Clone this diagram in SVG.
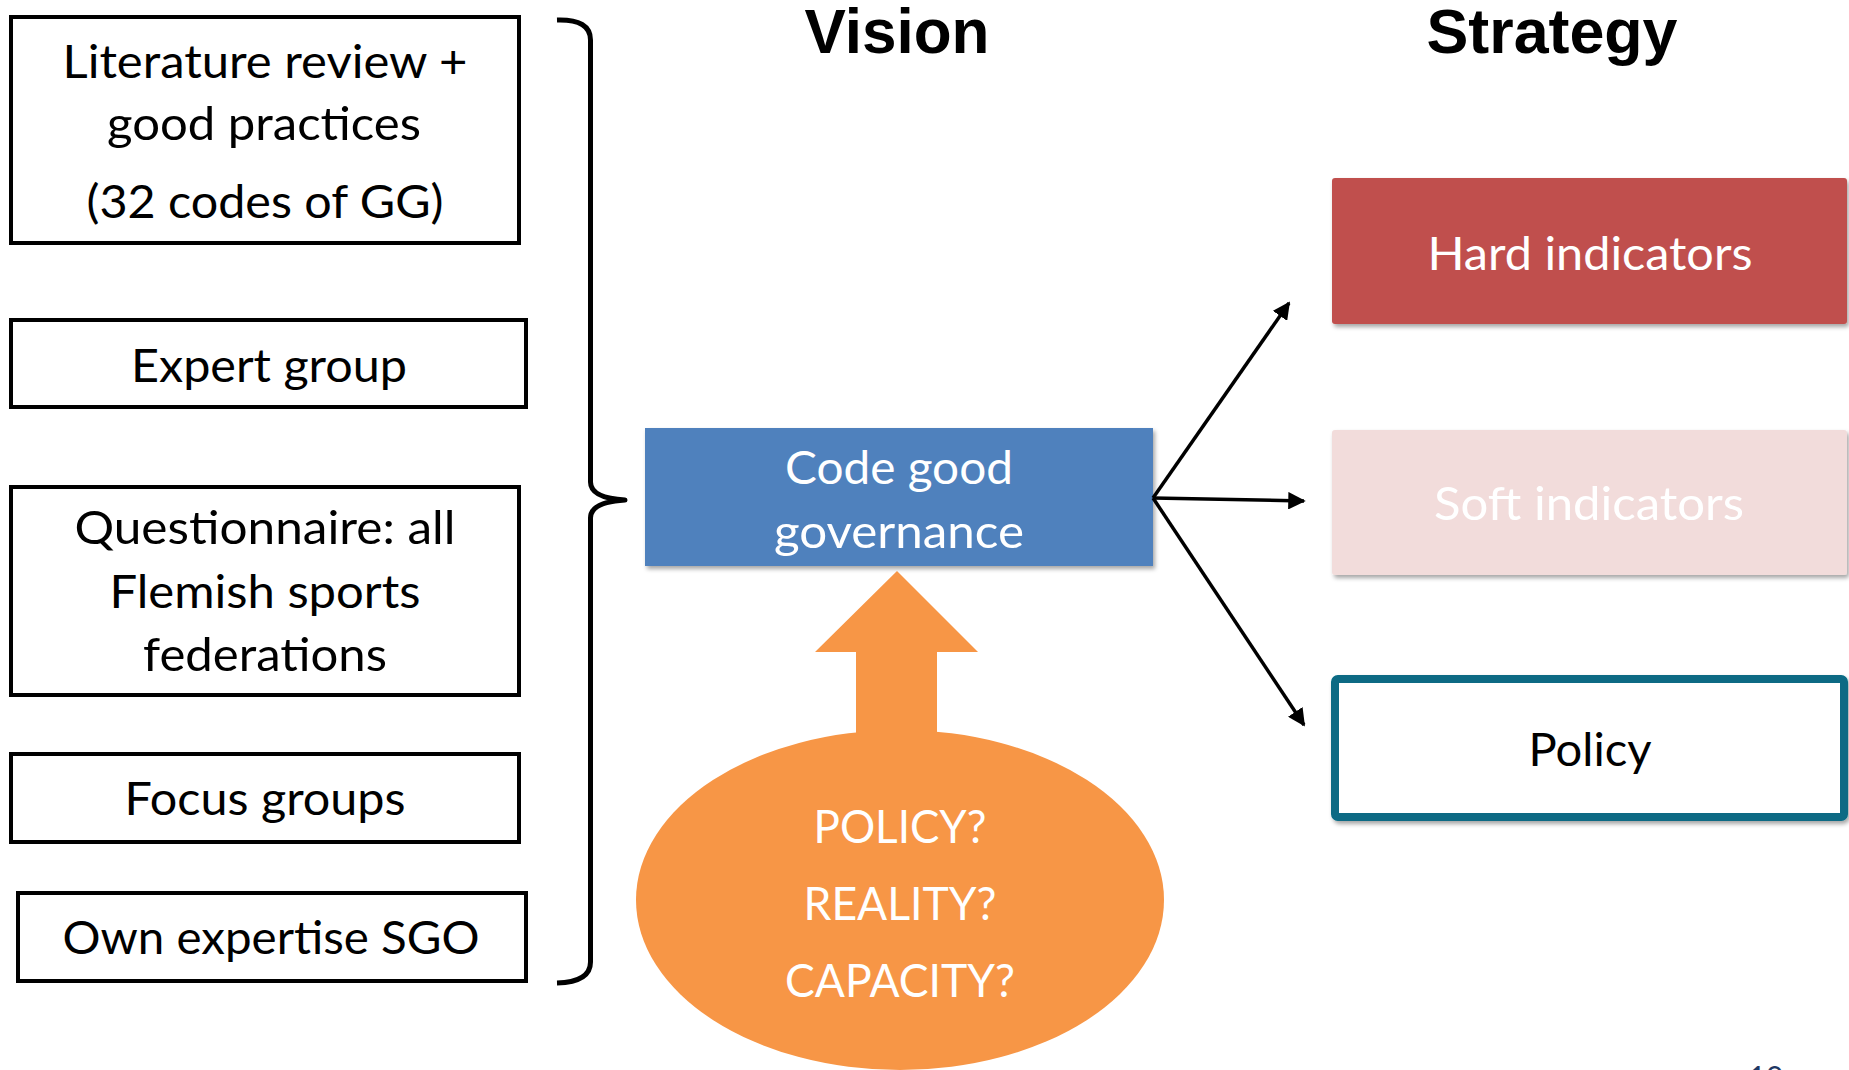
<svg xmlns="http://www.w3.org/2000/svg" width="1849" height="1070" viewBox="0 0 1849 1070">
  <style>
    .src { fill: #ffffff; stroke: #000000; stroke-width: 4; }
    .body { font-family: Lato, "Open Sans", "Liberation Sans", sans-serif; font-size: 47px; text-anchor: middle; }
    .dark { fill: #000000; }
    .light { fill: #ffffff; }
    .head { font-family: "Liberation Sans", Arial, sans-serif; font-weight: bold; font-size: 63px; text-anchor: middle; fill: #000000; }
    .link { fill: none; stroke: #000000; stroke-width: 3.5; marker-end: url(#tip); }
  </style>
  <defs>
    <marker id="tip" viewBox="0 0 10 10" refX="9" refY="5" markerWidth="5" markerHeight="5" orient="auto" markerUnits="strokeWidth">
      <path d="M0,0 L10,5 L0,10 Z" fill="#000000"/>
    </marker>
    <filter id="shadow" x="-5%" y="-10%" width="115%" height="130%">
      <feDropShadow dx="2" dy="3" stdDeviation="2" flood-color="#000000" flood-opacity="0.35"/>
    </filter>
  </defs>

  <rect width="1849" height="1070" fill="#ffffff"/>

  <!-- column headings -->
  <g id="headings">
    <text class="head" x="897" y="53" textLength="185" lengthAdjust="spacingAndGlyphs">Vision</text>
    <text class="head" x="1552" y="53" textLength="251" lengthAdjust="spacingAndGlyphs">Strategy</text>
  </g>

  <!-- input sources -->
  <g id="literature">
    <rect class="src" x="11" y="17" width="508" height="226"/>
    <text class="body dark" x="265" y="78" textLength="405" lengthAdjust="spacingAndGlyphs">Literature review +</text>
    <text class="body dark" x="264" y="140" textLength="314" lengthAdjust="spacingAndGlyphs">good practices</text>
    <text class="body dark" x="265" y="218" textLength="357" lengthAdjust="spacingAndGlyphs">(32 codes of GG)</text>
  </g>
  <g id="expert-group">
    <rect class="src" x="11" y="320" width="515" height="87"/>
    <text class="body dark" x="269" y="382" textLength="276" lengthAdjust="spacingAndGlyphs">Expert group</text>
  </g>
  <g id="questionnaire">
    <rect class="src" x="11" y="487" width="508" height="208"/>
    <text class="body dark" x="265" y="544" textLength="381" lengthAdjust="spacingAndGlyphs">Questionnaire: all</text>
    <text class="body dark" x="265" y="608" textLength="311" lengthAdjust="spacingAndGlyphs">Flemish sports</text>
    <text class="body dark" x="265" y="671" textLength="244" lengthAdjust="spacingAndGlyphs">federations</text>
  </g>
  <g id="focus-groups">
    <rect class="src" x="11" y="754" width="508" height="88"/>
    <text class="body dark" x="265" y="815" textLength="281" lengthAdjust="spacingAndGlyphs">Focus groups</text>
  </g>
  <g id="own-expertise">
    <rect class="src" x="18" y="893" width="508" height="88"/>
    <text class="body dark" x="271" y="954" textLength="417" lengthAdjust="spacingAndGlyphs">Own expertise SGO</text>
  </g>

  <!-- brace gathering the sources -->
  <g id="brace">
    <path d="M557,20 Q590.5,19 590.5,40 L590.5,482 Q590.5,498 625,500 Q590.5,502 590.5,518 L590.5,962 Q590.5,982 557,983" fill="none" stroke="#000000" stroke-width="5" stroke-linejoin="round"/>
  </g>

  <!-- central code -->
  <g id="code">
    <rect x="645" y="428" width="508" height="138" fill="#4F81BD" filter="url(#shadow)"/>
    <text class="body light" x="899" y="484" textLength="228" lengthAdjust="spacingAndGlyphs">Code good</text>
    <text class="body light" x="899" y="548" textLength="250" lengthAdjust="spacingAndGlyphs">governance</text>
  </g>

  <!-- questions feeding the code -->
  <g id="questions">
    <ellipse cx="900" cy="900" rx="264" ry="170" fill="#F79646"/>
    <path d="M897,571 L978,652 L937,652 L937,740 L856,740 L856,652 L815,652 Z" fill="#F79646"/>
    <text class="body light" x="900" y="843" textLength="173" lengthAdjust="spacingAndGlyphs">POLICY?</text>
    <text class="body light" x="900" y="920" textLength="193" lengthAdjust="spacingAndGlyphs">REALITY?</text>
    <text class="body light" x="900" y="997" textLength="230" lengthAdjust="spacingAndGlyphs">CAPACITY?</text>
  </g>

  <!-- strategy outputs -->
  <g id="hard-indicators">
    <rect x="1332" y="178" width="515" height="146" rx="3" fill="#C0504D" filter="url(#shadow)"/>
    <text class="body light" x="1590" y="270" textLength="325" lengthAdjust="spacingAndGlyphs">Hard indicators</text>
  </g>
  <g id="soft-indicators">
    <rect x="1332" y="430" width="515" height="145" rx="3" fill="#F2DCDB" filter="url(#shadow)"/>
    <text class="body light" x="1589" y="520" textLength="310" lengthAdjust="spacingAndGlyphs">Soft indicators</text>
  </g>
  <g id="policy">
    <rect x="1335" y="679" width="509" height="138" rx="3" fill="#ffffff" stroke="#076A84" stroke-width="8" filter="url(#shadow)"/>
    <text class="body dark" x="1590" y="766" textLength="123" lengthAdjust="spacingAndGlyphs">Policy</text>
  </g>

  <!-- connectors -->
  <g id="connectors">
    <line class="link" x1="1153" y1="498" x2="1289" y2="303"/>
    <line class="link" x1="1153" y1="498" x2="1304" y2="501"/>
    <line class="link" x1="1153" y1="498" x2="1304" y2="725"/>
  </g>

  <!-- slide number -->
  <g id="slide-number">
    <text x="1766" y="1088" font-family="Lato, 'Liberation Sans', sans-serif" font-size="30" text-anchor="middle" fill="#1F3864">10</text>
  </g>
</svg>
